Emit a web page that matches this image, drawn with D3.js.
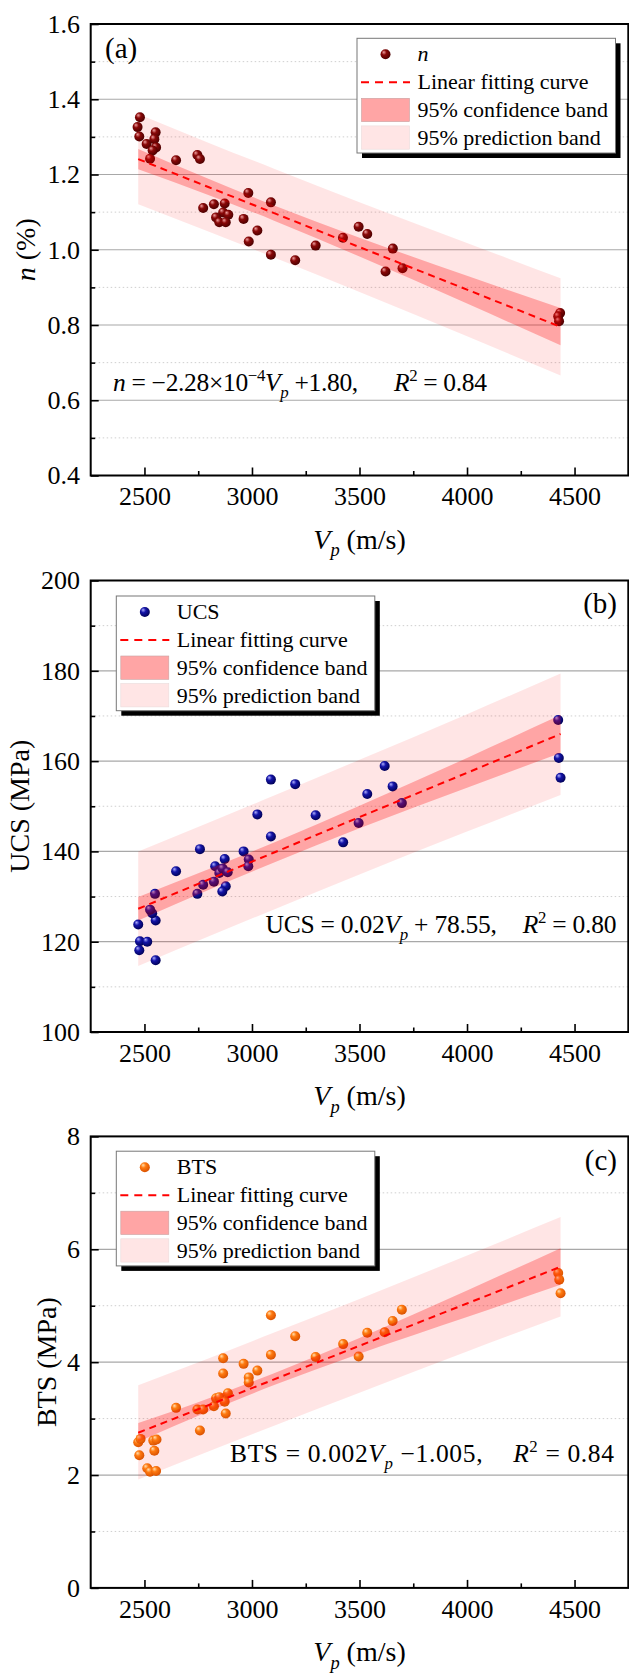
<!DOCTYPE html>
<html>
<head>
<meta charset="utf-8">
<script src="https://cdn.jsdelivr.net/npm/d3@7"></script>
<style>
  body { margin: 0; background: #fff; }
  svg text, svg tspan { font-family: "Liberation Serif", "Times New Roman", "DejaVu Serif", serif !important; fill: #000; }
</style>
</head>
<body>
<svg width="629" height="1674"></svg>
<script>
const svg = d3.select('svg');
const SERIF = '"Liberation Serif", "Times New Roman", "DejaVu Serif", serif';
const plotL = 90.7, plotR = 628.3, plotH = 451.5;
const xScale = d3.scaleLinear().domain([2250, 4750]).range([plotL, plotR]);

// x ticks (shared)
const xMajor = [2500, 3000, 3500, 4000, 4500];
const xMinor = [2750, 3250, 3750, 4250];

// (a) porosity n
const vpA = [2479, 2468, 2476, 2510, 2552, 2546, 2554, 2538, 2526, 2647, 2746, 2758, 2773, 2823, 2873, 2866, 2890, 2833, 2848, 2878,
             2983, 2961, 2985, 3025, 3088, 3088, 3201, 3296, 3423, 3496, 3536, 3655, 3621, 3700, 4433, 4424, 4428];
const nA  = [1.352, 1.326, 1.301, 1.281, 1.312, 1.294, 1.272, 1.264, 1.242, 1.238, 1.252, 1.241, 1.111, 1.121, 1.123, 1.099, 1.093, 1.086, 1.073, 1.073,
             1.151, 1.082, 1.022, 1.051, 1.126, 0.987, 0.972, 1.011, 1.032, 1.061, 1.042, 1.003, 0.942, 0.951, 0.832, 0.823, 0.810];
// (b) UCS
const vpB = [2471, 2479, 2513, 2476, 2552, 2552, 2536, 2526, 2549, 2647, 2758, 2746, 2773, 2823, 2829, 2848, 2864, 2873, 2887, 2878,
             2862, 2961, 2985, 2983, 3025, 3088, 3088, 3201, 3296, 3424, 3496, 3536, 3617, 3654, 3697, 4424, 4427, 4435];
const ucsB = [123.8, 120.1, 120.0, 118.1, 115.9, 124.7, 126.3, 127.1, 130.6, 135.6, 140.5, 130.6, 132.6, 133.3, 136.7, 135.2, 136.2, 138.3, 135.4, 132.3,
              131.1, 140.0, 138.2, 136.7, 148.2, 155.9, 143.3, 154.9, 148.0, 142.0, 146.3, 152.7, 158.9, 154.4, 150.7, 169.1, 160.7, 156.3];
// (c) BTS
const vpC = [2471, 2482, 2476, 2513, 2526, 2554, 2546, 2541, 2556, 2647, 2746, 2773, 2758, 2823, 2833, 2848, 2873, 2888, 2878, 2866,
             2866, 2961, 2985, 2985, 3025, 3088, 3088, 3201, 3296, 3424, 3496, 3536, 3617, 3654, 3697, 4424, 4429, 4435];
const btsC = [2.58, 2.64, 2.35, 2.12, 2.06, 2.07, 2.43, 2.61, 2.63, 3.19, 3.16, 3.16, 2.79, 3.22, 3.36, 3.38, 3.30, 3.45, 3.09, 3.80,
              4.07, 3.97, 3.73, 3.64, 3.85, 4.83, 4.13, 4.46, 4.09, 4.32, 4.10, 4.52, 4.53, 4.73, 4.93, 5.58, 5.46, 5.22];

// fit line and bands, read at these Vp values
const bandVp = [2471, 2800, 3100, 3500, 4000, 4435];
const fitA    = [1.241, 1.166, 1.098, 1.007, 0.894, 0.795];
const confUpA = [1.268, 1.188, 1.118, 1.032, 0.931, 0.845];
const confLoA = [1.214, 1.145, 1.078, 0.982, 0.857, 0.746];
const predUpA = [1.361, 1.284, 1.216, 1.126, 1.018, 0.924];
const predLoA = [1.121, 1.048, 0.980, 0.888, 0.770, 0.666];
const fitB    = [127.3, 133.8, 139.7, 147.6, 157.4, 166.0];
const confUpB = [129.9, 136.1, 141.9, 150.1, 160.7, 170.2];
const confLoB = [124.7, 131.5, 137.5, 145.1, 154.1, 161.8];
const predUpB = [140.0, 146.4, 152.3, 160.3, 170.4, 179.4];
const predLoB = [114.6, 121.2, 127.1, 134.9, 144.4, 152.5];
const fitC    = [2.75, 3.24, 3.69, 4.29, 5.04, 5.69];
const confUpC = [2.92, 3.36, 3.80, 4.43, 5.27, 6.02];
const confLoC = [2.59, 3.13, 3.59, 4.15, 4.80, 5.37];
const predUpC = [3.59, 4.07, 4.52, 5.12, 5.89, 6.57];
const predLoC = [1.92, 2.42, 2.87, 3.46, 4.19, 4.81];

// y ticks
const yMajorA = [0.4, 0.6, 0.8, 1.0, 1.2, 1.4, 1.6], yMinorA = [0.5, 0.7, 0.9, 1.1, 1.3, 1.5];
const yMajorB = [100, 120, 140, 160, 180, 200], yMinorB = [110, 130, 150, 170, 190];
const yMajorC = [0, 2, 4, 6, 8], yMinorC = [1, 3, 5, 7];

const legendLabels = ['Linear fitting curve', '95% confidence band', '95% prediction band'];

// sphere markers
const defs = svg.append('defs');
const sphere = (id, hi, base, edge) => {
  const gr = defs.append('radialGradient').attr('id', id)
    .attr('cx', '42%').attr('cy', '40%').attr('r', '62%').attr('fx', '32%').attr('fy', '28%');
  gr.append('stop').attr('offset', '0%').attr('stop-color', hi);
  gr.append('stop').attr('offset', '40%').attr('stop-color', base);
  gr.append('stop').attr('offset', '100%').attr('stop-color', edge);
};
sphere('sphA', '#f0a0a0', '#8a0808', '#4a0000');
sphere('sphB', '#b0b0ff', '#1414a8', '#000055');
sphere('sphC', '#ffe0b0', '#ff7a10', '#d85000');

const PRED_OP = 0.1, CONF_OP = 0.28;

// text with italic / sub / sup parts
const richText = (g, x, y, parts, size, anchor) => {
  const t = g.append('text').attr('x', x).attr('y', y).attr('font-size', size)
    .attr('text-anchor', anchor || 'start').style('white-space', 'pre');
  let shift = 0;
  parts.forEach(p => {
    const s = p.sub ? size * 0.28 : p.sup ? -size * 0.38 : 0;
    const sp = t.append('tspan').text(p.t).attr('dy', s - shift);
    if (p.it) sp.attr('font-style', 'italic');
    if (p.sub || p.sup) sp.attr('font-size', size * 0.66);
    if (p.dx) sp.attr('dx', p.dx);
    shift = s;
  });
  return t;
};

const panel = (selection, args) => {
  const {
    top, yDomain, yMajor, yMinor, fmt, vp, vals, fit, confUp, confLo, predUp, predLo,
    grad, legendX, legendY, seriesName, label, labelX, labelY, labelAnchor,
    yTitle, yTitleX, eq, eqX, eqY, eqAnchor, eqLen
  } = args;
  const y = d3.scaleLinear().domain(yDomain).range([top + plotH, top]);

  // grid
  selection.append('g').selectAll('line').data(yMinor).join('line')
    .attr('x1', plotL).attr('x2', plotR).attr('y1', d => y(d)).attr('y2', d => y(d))
    .attr('stroke', '#cfcfcf').attr('stroke-width', 1).attr('stroke-dasharray', '1.5,2.5');
  selection.append('g').selectAll('line').data(yMajor.filter(d => d > yDomain[0] && d < yDomain[1])).join('line')
    .attr('x1', plotL).attr('x2', plotR).attr('y1', d => y(d)).attr('y2', d => y(d))
    .attr('stroke', '#a8a8a8').attr('stroke-width', 1.2);

  const idx = d3.range(bandVp.length);
  const area = (up, lo) => d3.area().x(i => xScale(bandVp[i])).y0(i => y(lo[i])).y1(i => y(up[i]))
    .curve(d3.curveMonotoneX)(idx);

  // prediction band under points, confidence band over them
  selection.append('path').attr('d', area(predUp, predLo)).attr('fill', '#ff0000').attr('fill-opacity', PRED_OP);
  selection.append('g').selectAll('circle').data(vp).join('circle')
    .attr('cx', d => xScale(d)).attr('cy', (d, i) => y(vals[i])).attr('r', 5)
    .attr('fill', `url(#${grad})`);
  selection.append('path').attr('d', area(confUp, confLo)).attr('fill', '#ff0000').attr('fill-opacity', CONF_OP);
  selection.append('path')
    .attr('d', d3.line().x(i => xScale(bandVp[i])).y(i => y(fit[i]))(idx))
    .attr('fill', 'none').attr('stroke', '#ff0000').attr('stroke-width', 2).attr('stroke-dasharray', '7,5');

  // axes
  const xAx = selection.append('g').attr('transform', `translate(0,${top + plotH})`)
    .call(d3.axisBottom(xScale).tickValues(xMajor).tickSize(-8).tickSizeOuter(0).tickPadding(11.5).tickFormat(d3.format('d')));
  selection.append('g').attr('transform', `translate(0,${top + plotH})`)
    .call(d3.axisBottom(xScale).tickValues(xMinor).tickSize(-4.5).tickSizeOuter(0).tickFormat(''))
    .select('.domain').remove();
  const yAx = selection.append('g').attr('transform', `translate(${plotL},0)`)
    .call(d3.axisLeft(y).tickValues(yMajor).tickSize(-8).tickSizeOuter(0).tickPadding(10.7).tickFormat(fmt));
  selection.append('g').attr('transform', `translate(${plotL},0)`)
    .call(d3.axisLeft(y).tickValues(yMinor).tickSize(-4.5).tickSizeOuter(0).tickFormat(''))
    .select('.domain').remove();
  selection.selectAll('.tick line').attr('stroke', '#000').attr('stroke-width', 1.6);
  [xAx, yAx].forEach(a => {
    a.attr('font-family', SERIF).attr('font-size', 26);
    a.select('.domain').remove();
    a.selectAll('text').attr('font-size', 26).attr('fill', '#000');
  });
  selection.append('rect').attr('x', plotL).attr('y', top).attr('width', plotR - plotL).attr('height', plotH)
    .attr('fill', 'none').attr('stroke', '#000').attr('stroke-width', 2);

  // titles
  richText(selection, (plotL + plotR) / 2, top + plotH + 73,
    [{t: 'V', it: true}, {t: 'p', it: true, sub: true}, {t: ' (m/s)'}], 28, 'middle');
  richText(selection.append('g').attr('transform', `translate(${yTitleX},${top + plotH / 2}) rotate(-90)`),
    0, 0, yTitle, 28, 'middle');
  selection.append('text').attr('x', labelX).attr('y', labelY).attr('font-size', 29)
    .attr('text-anchor', labelAnchor).text(label);
  richText(selection, eqX, eqY, eq, 25.5, eqAnchor)
    .attr('textLength', eqLen).attr('lengthAdjust', 'spacing');

  // legend
  const lg = selection.append('g').attr('transform', `translate(${legendX},${legendY})`);
  const lw = 258.5, lh = 114.7;
  lg.append('rect').attr('x', 5).attr('y', 5).attr('width', lw).attr('height', lh).attr('fill', '#000');
  lg.append('rect').attr('width', lw).attr('height', lh).attr('fill', '#fff').attr('stroke', '#777').attr('stroke-width', 1);
  lg.append('circle').attr('cx', 28.5).attr('cy', 16).attr('r', 5).attr('fill', `url(#${grad})`);
  lg.append('line').attr('x1', 4).attr('x2', 53).attr('y1', 44).attr('y2', 44)
    .attr('stroke', '#ff0000').attr('stroke-width', 2).attr('stroke-dasharray', '8,6');
  lg.append('rect').attr('x', 4.5).attr('y', 60).attr('width', 48).attr('height', 23.3)
    .attr('fill', '#ff0000').attr('fill-opacity', 1 - (1 - PRED_OP) * (1 - CONF_OP)).attr('stroke', '#c8a0a0').attr('stroke-width', 0.6);
  lg.append('rect').attr('x', 4.5).attr('y', 87.6).attr('width', 48).attr('height', 23.3)
    .attr('fill', '#ff0000').attr('fill-opacity', PRED_OP).attr('stroke', '#eadada').attr('stroke-width', 0.6);
  richText(lg, 60.5, 23, seriesName, 22, 'start');
  lg.selectAll('.lab').data(legendLabels).join('text').attr('class', 'lab')
    .attr('x', 60.5).attr('y', (d, i) => 51 + i * 28).attr('font-size', 22).text(d => d);
};

const panels = [
  {
    top: 24, yDomain: [0.4, 1.6], yMajor: yMajorA, yMinor: yMinorA, fmt: d3.format('.1f'),
    vp: vpA, vals: nA, fit: fitA, confUp: confUpA, confLo: confLoA, predUp: predUpA, predLo: predLoA,
    grad: 'sphA', legendX: 357, legendY: 38.3, seriesName: [{t: 'n', it: true}],
    label: '(a)', labelX: 105, labelY: 58, labelAnchor: 'start',
    yTitle: [{t: 'n', it: true}, {t: ' (%)'}], yTitleX: 35,
    eq: [{t: 'n', it: true}, {t: ' = −2.28×10'}, {t: '−4', sup: true}, {t: 'V', it: true}, {t: 'p', it: true, sub: true},
         {t: ' +1.80,'}, {t: 'R', it: true, dx: 36}, {t: '2', sup: true}, {t: ' = 0.84'}],
    eqX: 113, eqY: 391, eqAnchor: 'start', eqLen: 374
  },
  {
    top: 580.5, yDomain: [100, 200], yMajor: yMajorB, yMinor: yMinorB, fmt: d3.format('d'),
    vp: vpB, vals: ucsB, fit: fitB, confUp: confUpB, confLo: confLoB, predUp: predUpB, predLo: predLoB,
    grad: 'sphB', legendX: 116.3, legendY: 596, seriesName: [{t: 'UCS'}],
    label: '(b)', labelX: 617, labelY: 612.5, labelAnchor: 'end',
    yTitle: [{t: 'UCS (MPa)'}], yTitleX: 29,
    eq: [{t: 'UCS = 0.02'}, {t: 'V', it: true}, {t: 'p', it: true, sub: true}, {t: ' + 78.55,'},
         {t: 'R', it: true, dx: 26}, {t: '2', sup: true}, {t: ' = 0.80'}],
    eqX: 616.5, eqY: 933, eqAnchor: 'end', eqLen: 351
  },
  {
    top: 1136.4, yDomain: [0, 8], yMajor: yMajorC, yMinor: yMinorC, fmt: d3.format('d'),
    vp: vpC, vals: btsC, fit: fitC, confUp: confUpC, confLo: confLoC, predUp: predUpC, predLo: predLoC,
    grad: 'sphC', legendX: 116.3, legendY: 1151.2, seriesName: [{t: 'BTS'}],
    label: '(c)', labelX: 617, labelY: 1170, labelAnchor: 'end',
    yTitle: [{t: 'BTS (MPa)'}], yTitleX: 56,
    eq: [{t: 'BTS = 0.002'}, {t: 'V', it: true}, {t: 'p', it: true, sub: true}, {t: ' −1.005,'},
         {t: 'R', it: true, dx: 30}, {t: '2', sup: true}, {t: ' = 0.84'}],
    eqX: 614, eqY: 1462, eqAnchor: 'end', eqLen: 384
  }
];

panels.forEach(p => svg.append('g').call(panel, p));
svg.selectAll('text').style('font-family', SERIF);
</script>
</body>
</html>
